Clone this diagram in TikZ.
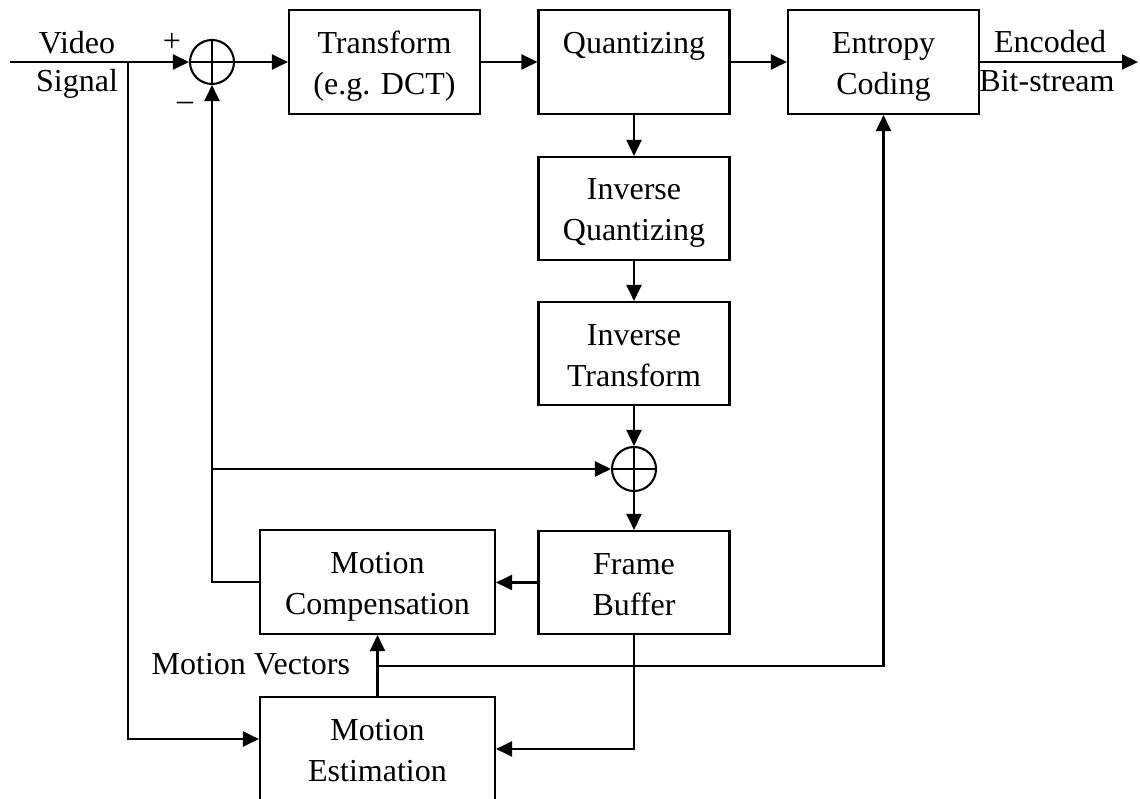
\documentclass[tikz,border=0pt]{standalone}
\usepackage{fontspec}
\setmainfont{Liberation Serif}
\usetikzlibrary{arrows.meta}
\begin{document}
\begin{tikzpicture}[x=1pt,y=-1pt,
  line width=2.1pt,
  txt/.style={font=\fontsize{32}{41}\selectfont},
  % text box measured from cap height to the last baseline, so
  % one-line labels sit where the first of two lines would
  block/.style={draw,txt,align=center,inner sep=0pt,minimum height=104pt,
    text height=65pt,text depth=0pt},
  oneline/.style={text height=23pt,text depth=39pt},
  summer/.style={draw,circle,minimum size=44pt,inner sep=0pt,
    path picture={\draw[line width=2.1pt]
      (path picture bounding box.north) -- (path picture bounding box.south)
      (path picture bounding box.west) -- (path picture bounding box.east);}},
  lbl/.style={txt,inner sep=0pt},
  arr/.style={-{Triangle[length=16pt,width=15pt]}}]
\useasboundingbox (0,0) rectangle (1140,799);
\clip (0,0) rectangle (1140,799);

% forward path
\node[block,minimum width=191pt] (trans)   at (384.5,62)  {Transform\\(e.g. DCT)};
\node[block,oneline,minimum width=191pt] (quant) at (634,62) {Quantizing};
\node[block,minimum width=191pt] (entropy) at (883.5,62)  {Entropy\\Coding};
% reconstruction loop
\node[block,minimum width=191pt,minimum height=103pt] (iquant) at (634,208.5) {Inverse\\Quantizing};
\node[block,minimum width=191pt,minimum height=103pt] (itrans) at (634,353.5) {Inverse\\Transform};
\node[block,minimum width=191pt,minimum height=103pt] (fbuf)   at (634,582.5) {Frame\\Buffer};
\node[block,minimum width=235pt] (mcomp) at (377.5,582) {Motion\\Compensation};
\node[block,minimum width=235pt] (mest)  at (377.5,749) {Motion\\Estimation};

\node[summer] (sum1) at (212,62) {};
\node[summer] (sum2) at (634,469) {};

% helper points
\coordinate (in)  at (10,62);
\coordinate (br)  at (128,62);
\coordinate (out) at (1138,62);
\coordinate (fb)  at (212,469);
\coordinate (mv)  at (377.5,666);

% labels
\node[lbl,anchor=base] (video)  at (77,54) {Video};
\node[lbl,anchor=base] (signal) at (77,92) {Signal};
\node[lbl,anchor=base] (enc)    at (1050,53) {Encoded};
\node[lbl,anchor=base] (bits)   at (1047,92) {Bit-stream};
\node[lbl] (plus)  at (172,42) {+};
\node[lbl] (minus) at (185,106) {–};
\node[lbl,anchor=base east] (mvlbl) at (351,674) {Motion Vectors};

% connectors
\draw[arr] (in) -- (sum1.west);
\draw[arr] (sum1.east) -- (trans.west);
\draw[arr] (trans.east) -- (quant.west);
\draw[arr] (quant.east) -- (entropy.west);
\draw[arr] (entropy.east) -- (out);
\draw[arr] (quant.south) -- (iquant.north);
\draw[arr] (iquant.south) -- (itrans.north);
\draw[arr] (itrans.south) -- (sum2.north);
\draw[arr] (sum2.south) -- (fbuf.north);
\draw[arr] (fbuf.west) -- (fbuf.west -| mcomp.east);
\draw[arr] (mcomp.west) -| (sum1.south);
\draw[arr] (fb) -- (sum2.west);
\draw[arr] (br) |- ([yshift=10pt]mest.west);
\draw[arr] (mest.north) -- (mcomp.south);
\draw[arr] (mv) -| (entropy.south);
\draw[arr] (fbuf.south) |- (mest.east);
\end{tikzpicture}
\end{document}
